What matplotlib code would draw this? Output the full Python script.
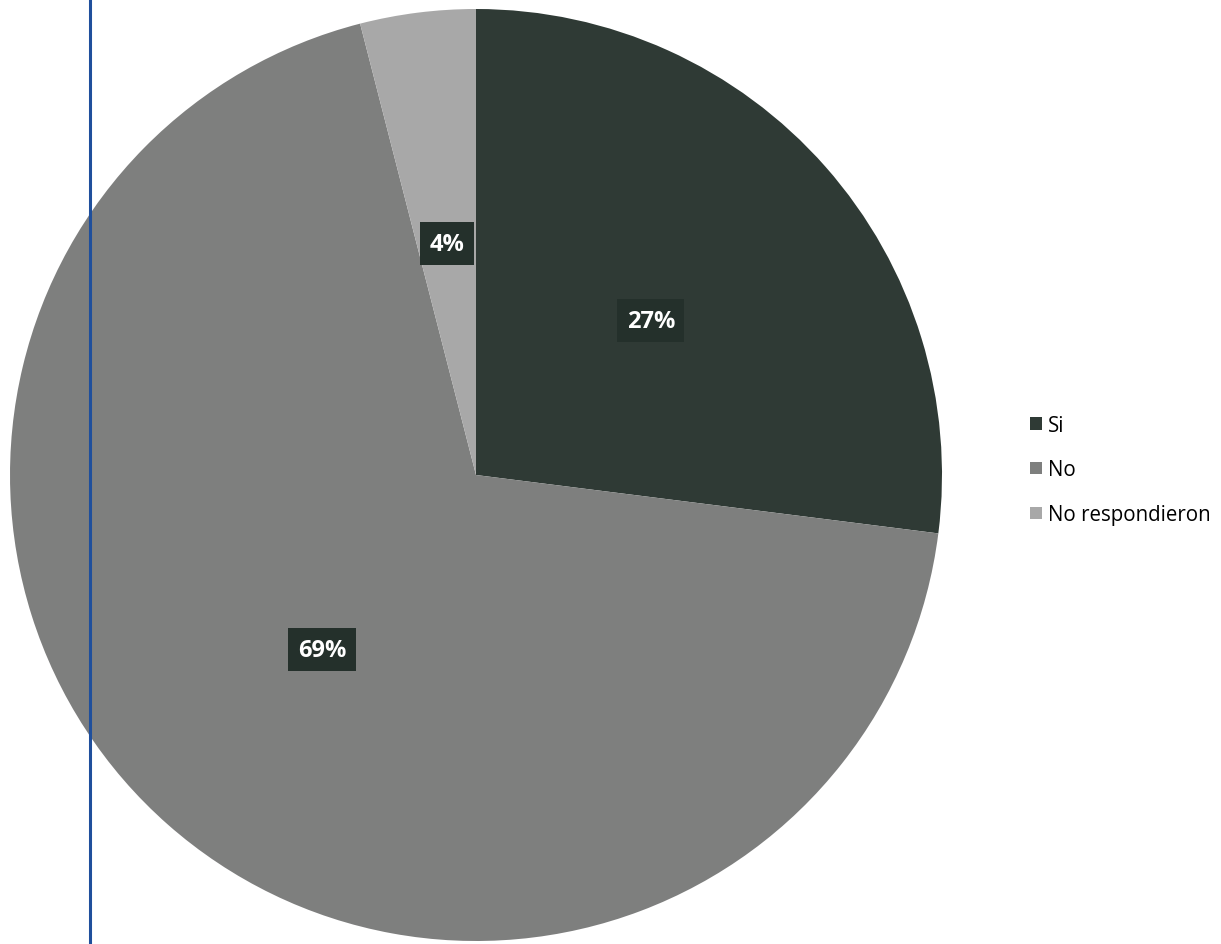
import matplotlib
matplotlib.use('Agg')
import matplotlib.pyplot as plt
from matplotlib.lines import Line2D

# Data
categories = ['Si', 'No', 'No respondieron']
values = [27, 69, 4]
colors = ['#2f3a35', '#7e7f7e', '#a8a8a8']

plt.rcParams['font.family'] = ['Open Sans', 'DejaVu Sans']

fig = plt.figure(figsize=(12.21, 9.45), dpi=100)
fig.patch.set_facecolor('white')

# pie axes: circle centre about (476, 476) px, radius ~466 px
ax = fig.add_axes([10 / 1221, 3 / 945, 932 / 1221, 932 / 945])

wedges, texts, autotexts = ax.pie(
    values, colors=colors, startangle=90, counterclock=False,
    autopct='%1.0f%%', pctdistance=0.5, radius=1.0,
    wedgeprops=dict(linewidth=0),
    textprops=dict(color='white', fontsize=17, fontweight='bold'))

for t in autotexts:
    t.set_bbox(dict(facecolor='#24302b', edgecolor='none', boxstyle='square,pad=0.4'))

ax.set_aspect('equal')
ax.set_xlim(-1.0, 1.0)
ax.set_ylim(-1.0, 1.0)

leg = fig.legend(wedges, categories, loc='center left',
                 bbox_to_anchor=(1016 / 1221, 1 - 471 / 945),
                 frameon=False, fontsize=14.8, handlelength=0.55, handleheight=0.55,
                 handletextpad=0.3, labelspacing=1.15, borderpad=0.2)

# blue vertical line from the scanned page
fig.add_artist(Line2D([90 / 1221, 90 / 1221], [0, 1], color='#1f4f9c', linewidth=2.2,
                      transform=fig.transFigure))

fig.savefig('out.png', dpi=100, facecolor='white')
plt.close()
